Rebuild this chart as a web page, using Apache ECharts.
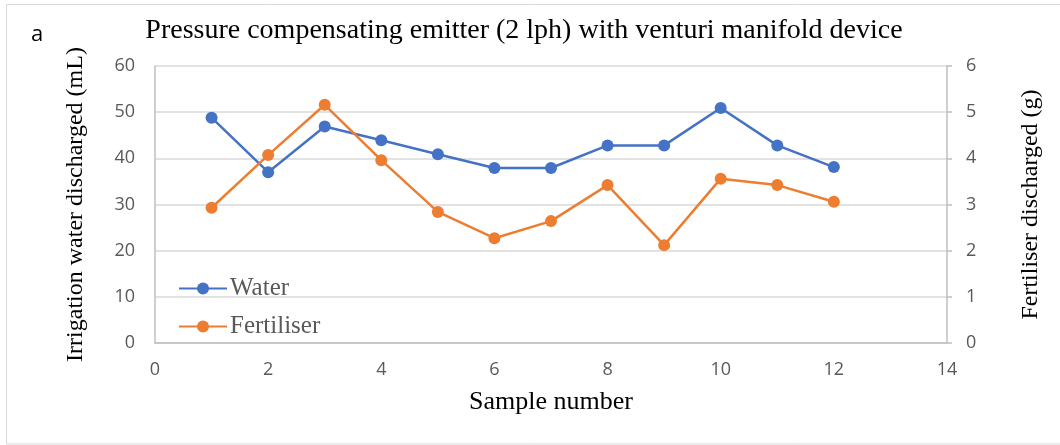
<!DOCTYPE html>
<html>
<head>
<meta charset="utf-8">
<script src="https://cdn.jsdelivr.net/npm/echarts@6/dist/echarts.min.js"></script>
<style>
html,body{margin:0;padding:0;background:#fff;}
#chart{width:1060px;height:445px;}
</style>
</head>
<body>
<div id="chart"></div>
<script>
const samples = [1,2,3,4,5,6,7,8,9,10,11,12];
const water = [48.8,37.0,46.9,43.9,40.9,37.9,37.9,42.8,42.8,50.9,42.8,38.1];
const fertiliser = [2.93,4.07,5.16,3.96,2.84,2.27,2.64,3.42,2.12,3.56,3.42,3.06];
const leftTicks = [0,10,20,30,40,50,60];
const rightTicks = [0,1,2,3,4,5,6];
const xTicks = [0,2,4,6,8,10,12,14];

const serif = '"Liberation Serif", "DejaVu Serif", serif';
const sans = '"Open Sans", "Liberation Sans", sans-serif';
const gray = '#595959';

const chart = echarts.init(document.getElementById('chart'), null, {renderer:'canvas'});
chart.setOption({
  animation:false,
  backgroundColor:'#fff',
  title:{
    text:'Pressure compensating emitter (2 lph) with venturi manifold device',
    left:519, top:12, textAlign:'center',
    textStyle:{fontFamily:serif, fontSize:28, fontWeight:'normal', color:'#000'}
  },
  graphic:[
    {type:'rect', shape:{x:6.5,y:4.5,width:1060,height:439.5}, style:{fill:'none', stroke:'#d9d9d9', lineWidth:1}},
    {type:'text', left:31, top:24, style:{text:'a', font:'22px '+sans, fill:'#000'}}
  ],
  legend:{
    orient:'vertical', left:173, top:271, itemGap:13,
    itemWidth:48, itemHeight:15,
    textStyle:{fontFamily:serif, fontSize:25, color:gray, padding:[0,0,0,-2]},
    data:['Water','Fertiliser']
  },
  grid:{left:155, right:113, top:66, bottom:102},
  xAxis:{
    type:'value', min:0, max:14, interval:2,
    name:'Sample number', nameLocation:'middle', nameGap:46,
    nameTextStyle:{fontFamily:serif, fontSize:26, color:'#000'},
    axisLine:{show:true, lineStyle:{color:'#bfbfbf', width:1.5}},
    axisTick:{show:false},
    splitLine:{show:false},
    axisLabel:{fontFamily:sans, fontSize:18, color:gray, margin:18,
      formatter:v=>xTicks.includes(v)?String(v):''}
  },
  yAxis:[
    {
      type:'value', min:0, max:60, interval:10, position:'left',
      name:'Irrigation water discharged (mL)', nameLocation:'middle', nameGap:67,
      nameTextStyle:{fontFamily:serif, fontSize:24, color:'#000'},
      axisLine:{show:true, lineStyle:{color:'#bfbfbf', width:1.5}},
      axisTick:{show:false},
      splitLine:{show:true, lineStyle:{color:'#d9d9d9', width:1.5}},
      axisLabel:{fontFamily:sans, fontSize:18, color:gray, margin:20,
        formatter:v=>leftTicks.includes(v)?String(v):''}
    },
    {
      type:'value', min:0, max:6, interval:1, position:'right',
      name:'Fertiliser discharged (g)', nameLocation:'middle', nameGap:72, nameRotate:90,
      nameTextStyle:{fontFamily:serif, fontSize:24, color:'#000'},
      axisLine:{show:true, lineStyle:{color:'#bfbfbf', width:1.5}},
      axisTick:{show:true, length:5, lineStyle:{color:'#bfbfbf', width:1.5}},
      splitLine:{show:false},
      axisLabel:{fontFamily:sans, fontSize:18, color:gray, margin:19,
        formatter:v=>rightTicks.includes(v)?String(v):''}
    }
  ],
  series:[
    {
      name:'Water', type:'line', yAxisIndex:0,
      data:samples.map((s,i)=>[s,water[i]]),
      symbol:'circle', symbolSize:12,
      lineStyle:{color:'#4472C4', width:2.5},
      itemStyle:{color:'#4472C4'}
    },
    {
      name:'Fertiliser', type:'line', yAxisIndex:1,
      data:samples.map((s,i)=>[s,fertiliser[i]]),
      symbol:'circle', symbolSize:12,
      lineStyle:{color:'#ED7D31', width:2.5},
      itemStyle:{color:'#ED7D31'}
    }
  ]
});
</script>
</body>
</html>
